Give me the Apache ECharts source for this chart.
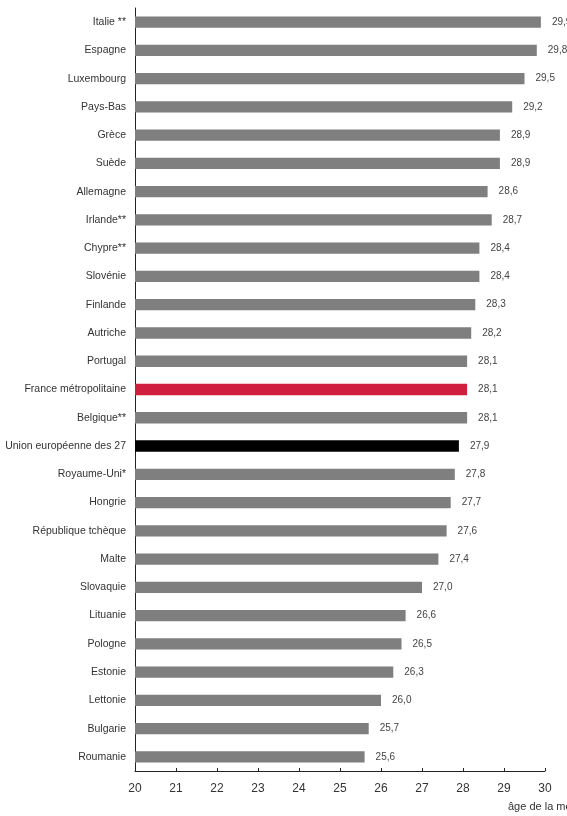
<!DOCTYPE html>
<html><head><meta charset="utf-8">
<script src="https://cdn.jsdelivr.net/npm/echarts@6/dist/echarts.min.js"></script>
<style>html,body{margin:0;padding:0;background:#fff}#c{width:567px;height:816px}</style>
</head><body><div id="c"></div>
<script>
const categories = ["Italie **","Espagne","Luxembourg","Pays-Bas","Grèce","Suède","Allemagne","Irlande**","Chypre**","Slovénie","Finlande","Autriche","Portugal","France métropolitaine","Belgique**","Union européenne des 27","Royaume-Uni*","Hongrie","République tchèque","Malte","Slovaquie","Lituanie","Pologne","Estonie","Lettonie","Bulgarie","Roumanie"];
const values = [29.9,29.8,29.5,29.2,28.9,28.9,28.6,28.7,28.4,28.4,28.3,28.2,28.1,28.1,28.1,27.9,27.8,27.7,27.6,27.4,27.0,26.6,26.5,26.3,26.0,25.7,25.6];
const xTicks = [20,21,22,23,24,25,26,27,28,29,30];
const axisTitle = "âge de la mère";

const FONT = "'Liberation Sans Narrow','Liberation Sans',sans-serif";
const chart = echarts.init(document.getElementById('c'), null, {renderer:'canvas'});
const colorFor = (name) => name === "France métropolitaine" ? '#d01e3e' : (name === "Union européenne des 27" ? '#000000' : '#7f7f7f');

chart.setOption({
  animation:false,
  grid:{left:135, right:22, top:8, bottom:45, containLabel:false, outerBoundsMode:'none'},
  xAxis:{
    type:'value', min:xTicks[0], max:xTicks[xTicks.length-1], interval:1,
    axisLine:{show:true, lineStyle:{color:'#222', width:1}},
    axisTick:{show:true, inside:true, length:3, lineStyle:{color:'#222'}},
    splitLine:{show:false},
    axisLabel:{color:'#333', fontFamily:FONT, fontSize:12, margin:12}
  },
  yAxis:{
    type:'category', data:categories, inverse:true,
    axisLine:{show:true, lineStyle:{color:'#222', width:1}},
    axisTick:{show:false},
    axisLabel:{color:'#333', fontFamily:FONT, fontSize:10.5, margin:9}
  },
  graphic:[{type:'text', left:508, top:801, style:{text:axisTitle, fill:'#333', font:"11px "+FONT}}],
  series:[{
    type:'bar', barWidth:'40%',
    data: values.map((v,i)=>({value:v, itemStyle:{color:colorFor(categories[i])}})),
    label:{show:true, position:'right', distance:11, color:'#444', fontFamily:FONT, fontSize:10,
      formatter:(p)=>p.value.toFixed(1).replace('.',',')}
  }]
});
</script></body></html>
